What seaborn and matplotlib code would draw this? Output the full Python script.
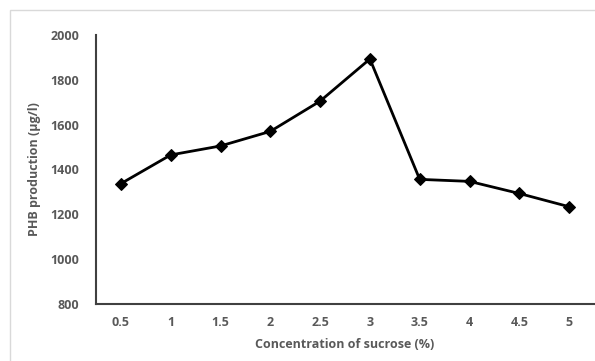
import matplotlib
matplotlib.use("Agg")
import matplotlib.pyplot as plt
from matplotlib.patches import Rectangle
import seaborn as sns
import pandas as pd

sucrose = ["0.5", "1", "1.5", "2", "2.5", "3", "3.5", "4", "4.5", "5"]
phb = [1337, 1465, 1505, 1570, 1705, 1893, 1356, 1347, 1293, 1234]
y_ticks = [800, 1000, 1200, 1400, 1600, 1800, 2000]

sns.set_theme(style="white")
plt.rcParams["font.family"] = ["Open Sans", "DejaVu Sans"]

df = pd.DataFrame({"sucrose": sucrose, "phb": phb})

fig = plt.figure(figsize=(5.95, 3.61), dpi=100)
ax = fig.add_axes([96 / 595, 1 - 304 / 361, 498 / 595, 269 / 361])

sns.lineplot(data=df, x="sucrose", y="phb", ax=ax, color="black", lw=2,
             marker="D", markersize=6.5, markeredgecolor="black", sort=False)

ax.set_xlim(-0.5, len(sucrose) - 0.5)
ax.set_ylim(800, 2000)
ax.set_yticks(y_ticks)

grey = "#595959"
ax.tick_params(axis="both", length=0, labelcolor=grey, labelsize=9)
ax.tick_params(axis="y", pad=12)
ax.tick_params(axis="x", pad=9)
for lab in ax.get_xticklabels() + ax.get_yticklabels():
    lab.set_fontweight("bold")

ax.set_xlabel("Concentration of sucrose (%)", color=grey, fontsize=9,
              fontweight="bold", labelpad=6)
ax.set_ylabel("PHB production (\u00b5g/l)", color=grey, fontsize=9,
              fontweight="bold", labelpad=7)

for side in ["top", "right"]:
    ax.spines[side].set_visible(False)
for side in ["left", "bottom"]:
    ax.spines[side].set_color("#404040")
    ax.spines[side].set_linewidth(1.5)

fig.add_artist(Rectangle((10 / 595, -0.1), 1.0, 1 - 10 / 361 + 0.1,
                         transform=fig.transFigure, fill=False,
                         edgecolor="#d9d9d9", lw=1))

fig.savefig("out.png", dpi=100)
